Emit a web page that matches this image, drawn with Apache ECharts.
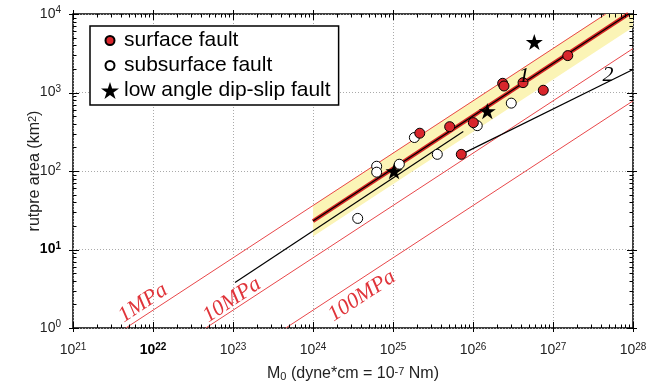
<!DOCTYPE html>
<html><head><meta charset="utf-8">
<script src="https://cdn.jsdelivr.net/npm/echarts@6/dist/echarts.min.js"></script>
<style>html,body{margin:0;padding:0;background:#fff}#c{width:650px;height:387px}</style>
</head><body><div id="c"></div>
<script>
// ---- data ----
const surfaceFault = [[1.53e27,2950],[2.35e26,1310],[2.44e26,1210],[4.22e26,1335],[7.56e26,1068],[1.01e26,413],[5.11e25,367],[2.16e25,303],[7.14e25,163]];
const subsurfaceFault = [[1.85e25,267],[1.13e26,378],[3.01e26,732],[3.58e25,163],[1.2e25,122],[6.25e24,115],[6.25e24,96.6],[3.62e24,24.9]];
const lowAngleFault = [[5.84e26,4395],[1.51e26,580],[1.03e25,99.4]];
const line1MPa = [[4.57e21,1],[4.57e27,1e4]];
const line10MPa = [[4.57e22,1],[1e28,3630]];
const line100MPa = [[4.57e23,1],[1e28,782]];
const fitLine1 = [[1e24,23],[8.75e27,1e4]];
const bandLower = [[1e24,14.6],[1e28,6790]];
const bandUpper = [[1e24,36.7],[1e28,17060]];
const model2Low = [[1.06e23,3.8],[7.56e25,318]];
const model2High = [[7.14e25,163],[1e28,1965]];
const xTickLabels = ['21','22','23','24','25','26','27','28'];
const yTickLabels = ['0','1','2','3','4'];
const boldX = ['22'];
const boldY = ['1'];
const legendNames = ['surface fault','subsurface fault','low angle dip-slip fault'];

// ---- helpers ----
const starPath = 'path://M50,0 L61.23,34.55 L97.55,34.55 L68.17,55.9 L79.39,90.45 L50,69.1 L20.61,90.45 L31.83,55.9 L2.45,34.55 L38.77,34.55 Z';
const circleIcon = 'path://M0,0M20,20M5,10a5,5 0 1,0 10,0a5,5 0 1,0 -10,0z';
const xMin=1e21,xMax=1e28,yMin=1,yMax=1e4;
const xTicks=[], yTicks=[];
for(let e=21;e<=28;e++){ for(let m=1;m<=9;m++){ if(e===28&&m>1)break; xTicks.push([m*Math.pow(10,e),1,m===1?1:0]); } }
for(let e=0;e<=4;e++){ for(let m=1;m<=9;m++){ if(e===4&&m>1)break; yTicks.push([1e21,m*Math.pow(10,e),m===1?1:0]); } }
const R = v => Math.round(v)+0.5;
function tickLine(x1,y1,x2,y2){return {type:'line',shape:{x1,y1,x2,y2},style:{stroke:'#000',lineWidth:1}};}

const rich = {
  b:{fontSize:14,lineHeight:17,color:'#222',fontFamily:'Liberation Sans'},
  s:{fontSize:10,lineHeight:10,verticalAlign:'top',color:'#222',fontFamily:'Liberation Sans'},
  bb:{fontSize:14,lineHeight:17,color:'#000',fontWeight:'bold',fontFamily:'Liberation Sans'},
  bs:{fontSize:10,lineHeight:10,verticalAlign:'top',color:'#000',fontWeight:'bold',fontFamily:'Liberation Sans'}
};
function fmt(labels,bold,base){
  return v=>{const e=Math.round(Math.log10(v)); const t=labels[e-base]; if(t===undefined)return '';
    return bold.includes(t)?`{bb|10}{bs|${t}}`:`{b|10}{s|${t}}`;};
}

const chart = echarts.init(document.getElementById('c'));
chart.setOption({
  animation:false,
  grid:{left:73,right:17,top:14,bottom:56,show:true,borderColor:'#000',borderWidth:1.5,backgroundColor:'transparent'},
  xAxis:{type:'log',logBase:10,min:xMin,max:xMax,splitNumber:7,
    axisLine:{show:false},axisTick:{show:false},
    splitLine:{show:true,lineStyle:{color:'#aaa',type:[1,2],width:1}},
    axisLabel:{margin:14,showMinLabel:true,showMaxLabel:true,formatter:fmt(xTickLabels,boldX,21),rich},
    name:'M{sub|0} (dyne*cm = 10{sup|-7} Nm)',nameLocation:'middle',nameGap:38,nameMoveOverlap:false,
    nameTextStyle:{fontSize:16,color:'#222',fontFamily:'Liberation Sans',
      rich:{sub:{fontSize:11,verticalAlign:'bottom',lineHeight:12,color:'#222'},sup:{fontSize:11,verticalAlign:'top',lineHeight:11,color:'#222'}}}
  },
  yAxis:{type:'log',logBase:10,min:yMin,max:yMax,splitNumber:4,
    axisLine:{show:false},axisTick:{show:false},
    splitLine:{show:true,lineStyle:{color:'#aaa',type:[1,2],width:1}},
    axisLabel:{margin:12,showMinLabel:true,showMaxLabel:true,formatter:fmt(yTickLabels,boldY,0),rich},
    name:'rutpre area (km{sup|2})',nameLocation:'middle',nameGap:30,nameMoveOverlap:false,
    nameTextStyle:{fontSize:16,color:'#222',fontFamily:'Liberation Sans',
      rich:{sup:{fontSize:11,verticalAlign:'top',lineHeight:11,color:'#222'}}}
  },
  legend:{orient:'vertical',left:90,top:26,padding:[4,8,4,10],itemGap:4,itemWidth:18,itemHeight:18,
    borderColor:'#000',borderWidth:1.5,borderRadius:0,backgroundColor:'#fff',selectedMode:false,z:20,
    textStyle:{fontSize:21,fontFamily:'Liberation Sans',color:'#000'},
    data:[{name:legendNames[0],icon:circleIcon},{name:legendNames[1],icon:circleIcon},{name:legendNames[2],icon:starPath}]
  },
  series:[
    {type:'custom',name:'band',silent:true,clip:true,z:1,data:[[1e24,23]],
      renderItem:(p,api)=>{const pts=bandLower.map(q=>api.coord(q)).concat(bandUpper.slice().reverse().map(q=>api.coord(q)));
        return {type:'polygon',shape:{points:pts},style:{fill:'#fbf4b6'}};}},
    {type:'line',name:'1MPa',data:line1MPa,symbol:'none',silent:true,z:2,lineStyle:{color:'#e8474a',width:1}},
    {type:'line',name:'10MPa',data:line10MPa,symbol:'none',silent:true,z:2,lineStyle:{color:'#e8474a',width:1}},
    {type:'line',name:'100MPa',data:line100MPa,symbol:'none',silent:true,z:2,lineStyle:{color:'#e8474a',width:1}},
    {type:'line',name:'fit1red',data:fitLine1,symbol:'none',silent:true,z:3,lineStyle:{color:'#d62424',width:4}},
    {type:'line',name:'fit1black',data:fitLine1,symbol:'none',silent:true,z:3,lineStyle:{color:'#000',width:1.2}},
    {type:'line',name:'m2low',data:model2Low,symbol:'none',silent:true,z:3,lineStyle:{color:'#000',width:1.2}},
    {type:'line',name:'m2high',data:model2High,symbol:'none',silent:true,z:3,lineStyle:{color:'#000',width:1.2}},
    {type:'scatter',name:legendNames[1],data:subsurfaceFault,symbol:'circle',symbolSize:10,z:5,
      itemStyle:{color:'#fff',borderColor:'#000',borderWidth:1,opacity:1}},
    {type:'scatter',name:legendNames[0],data:surfaceFault,symbol:'circle',symbolSize:10,z:5,
      itemStyle:{color:'#d9262c',borderColor:'#000',borderWidth:1,opacity:1}},
    {type:'scatter',name:legendNames[2],data:lowAngleFault,symbol:starPath,symbolSize:17,symbolKeepAspect:true,z:6,
      itemStyle:{color:'#000',opacity:1}},
    {type:'custom',name:'xticks',silent:true,clip:false,z:10,data:xTicks,
      renderItem:(p,api)=>{const v=api.value(0),maj=api.value(2)===1;const b=api.coord([v,yMin]),t=api.coord([v,yMax]);
        const li=maj?6:3.5,lo=maj?4:0;const x=R(b[0]);
        return {type:'group',children:[tickLine(x,b[1]+lo,x,b[1]-li),tickLine(x,t[1]-lo,x,t[1]+li)]};}},
    {type:'custom',name:'yticks',silent:true,clip:false,z:10,data:yTicks,
      renderItem:(p,api)=>{const v=api.value(1),maj=api.value(2)===1;const l=api.coord([xMin,v]),r=api.coord([xMax,v]);
        const li=maj?6:3.5,lo=maj?4:0;const y=R(l[1]);
        return {type:'group',children:[tickLine(l[0]-lo,y,l[0]+li,y),tickLine(r[0]+lo,y,r[0]-li,y)]};}}
  ],
  graphic:[
    {type:'text',x:143,y:303,rotation:0.585,z:8,style:{text:'1MPa',fontSize:22,fontFamily:'Liberation Serif',fontStyle:'italic',fill:'#e0343a',align:'center',verticalAlign:'middle'}},
    {type:'text',x:232,y:300,rotation:0.585,z:8,style:{text:'10MPa',fontSize:22,fontFamily:'Liberation Serif',fontStyle:'italic',fill:'#e0343a',align:'center',verticalAlign:'middle'}},
    {type:'text',x:362,y:296,rotation:0.585,z:8,style:{text:'100MPa',fontSize:22,fontFamily:'Liberation Serif',fontStyle:'italic',fill:'#e0343a',align:'center',verticalAlign:'middle'}},
    {type:'text',x:524,y:76,z:8,style:{text:'1',fontSize:22,fontFamily:'Liberation Serif',fontStyle:'italic',fill:'#000',align:'center',verticalAlign:'middle'}},
    {type:'text',x:608,y:75,z:8,style:{text:'2',fontSize:22,fontFamily:'Liberation Serif',fontStyle:'italic',fill:'#000',align:'center',verticalAlign:'middle'}}
  ]
});
</script></body></html>
